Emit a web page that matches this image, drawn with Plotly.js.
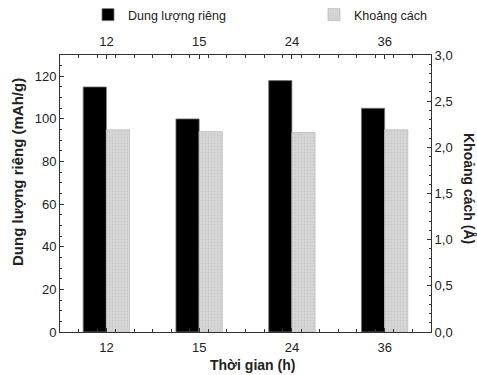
<!DOCTYPE html>
<html>
<head>
<meta charset="utf-8">
<script src="https://cdn.plot.ly/plotly-3.0.1.min.js"></script>
<style>html,body{margin:0;padding:0;background:#fff;}#chart{width:477px;height:375px;}</style>
</head>
<body>
<div id="chart"></div>
<script>
const categories = ['12', '15', '24', '36'];
const capacity = [115, 100, 118, 105];          // Dung lượng riêng (mAh/g)
const spacing = [2.19, 2.17, 2.16, 2.19];       // Khoảng cách (Å)
const seriesNames = ['Dung lượng riêng', 'Khoảng cách'];
const xTitle = 'Thời gian (h)';
const yTitle = 'Dung lượng riêng (mAh/g)';
const y2Title = 'Khoảng cách (Å)';

const xIdx = categories.map((_, i) => i);
const FONT = 'Liberation Sans, Arial, sans-serif';

const traces = [
  {
    type: 'bar', name: seriesNames[0], x: xIdx, y: capacity,
    xaxis: 'x', yaxis: 'y', legend: 'legend',
    width: 0.25, offset: -0.25,
    marker: {color: '#000000', line: {color: '#777777', width: 0.8}}
  },
  {
    type: 'bar', name: seriesNames[1], x: xIdx, y: spacing,
    xaxis: 'x', yaxis: 'y2', legend: 'legend2',
    width: 0.25, offset: 0,
    marker: {color: '#d4d4d4', line: {color: '#bdbdbd', width: 0.8},
             pattern: {shape: '.', bgcolor: '#d6d6d6', fgcolor: '#c6c6c6', size: 3, solidity: 0.2}}
  },
  {
    type: 'scatter', x: xIdx, y: capacity, xaxis: 'x2', yaxis: 'y',
    mode: 'none', showlegend: false, hoverinfo: 'skip'
  }
];

const axisCommon = {
  showline: true, linecolor: '#333333', linewidth: 1,
  ticks: 'inside', ticklen: 4, tickcolor: '#333333',
  showgrid: false, zeroline: false,
  tickfont: {family: FONT, size: 13, color: '#222222'}
};

const legendCommon = {
  orientation: 'h', xref: 'container', yref: 'container',
  xanchor: 'left', yanchor: 'middle', y: 1 - 15 / 375,
  font: {family: FONT, size: 12.5, color: '#222222'},
  itemwidth: 30, bgcolor: 'rgba(0,0,0,0)'
};

const titleFont = {family: FONT, size: 14, color: '#222222', weight: 'bold'};

const layout = {
  width: 477, height: 375,
  margin: {l: 60, r: 46, t: 55, b: 43},
  paper_bgcolor: '#ffffff', plot_bgcolor: '#ffffff',
  font: {family: FONT, color: '#222222'},
  barmode: 'overlay',
  showlegend: true,
  legend: Object.assign({}, legendCommon, {x: 88 / 477}),
  legend2: Object.assign({}, legendCommon, {x: 314 / 477}),
  xaxis: Object.assign({}, axisCommon, {
    type: 'linear', range: [-0.5, 3.5],
    tickvals: xIdx, ticktext: categories, ticklabelstandoff: 3,
    minor: {dtick: 0.2, tick0: -0.5, ticks: 'inside', ticklen: 3, tickcolor: '#333333'}
  }),
  xaxis2: Object.assign({}, axisCommon, {
    type: 'linear', range: [-0.5, 3.5], overlaying: 'x', side: 'top',
    tickvals: xIdx, ticktext: categories, ticklabelstandoff: 3,
    minor: {dtick: 0.2, tick0: -0.5, ticks: 'inside', ticklen: 3, tickcolor: '#333333'}
  }),
  yaxis: Object.assign({}, axisCommon, {
    range: [0, 130], dtick: 20, tick0: 0,
    minor: {dtick: 5, ticks: 'inside', ticklen: 2, tickcolor: '#333333'}
  }),
  yaxis2: Object.assign({}, axisCommon, {
    range: [0, 3.0], dtick: 0.5, tick0: 0, overlaying: 'y', side: 'right',
    tickformat: '.1f',
    minor: {dtick: 0.1, ticks: 'inside', ticklen: 2, tickcolor: '#333333'}
  }),
  separators: ',.',
  annotations: [
    {
      text: xTitle, xref: 'paper', yref: 'paper',
      x: (252 - 60) / 371, y: -(365 - 332) / 277, xanchor: 'center', yanchor: 'middle',
      showarrow: false, font: titleFont
    },
    {
      text: yTitle, textangle: -90, xref: 'paper', yref: 'paper',
      x: (17 - 60) / 371, y: (332 - 172) / 277, xanchor: 'center', yanchor: 'middle',
      showarrow: false, font: Object.assign({}, titleFont, {size: 15})
    },
    {
      text: y2Title, textangle: 90, xref: 'paper', yref: 'paper',
      x: (469 - 60) / 371, y: (332 - 188) / 277, xanchor: 'center', yanchor: 'middle',
      showarrow: false, font: titleFont
    }
  ]
};

Plotly.newPlot('chart', traces, layout, {displayModeBar: false, staticPlot: true});
</script>
</body>
</html>
